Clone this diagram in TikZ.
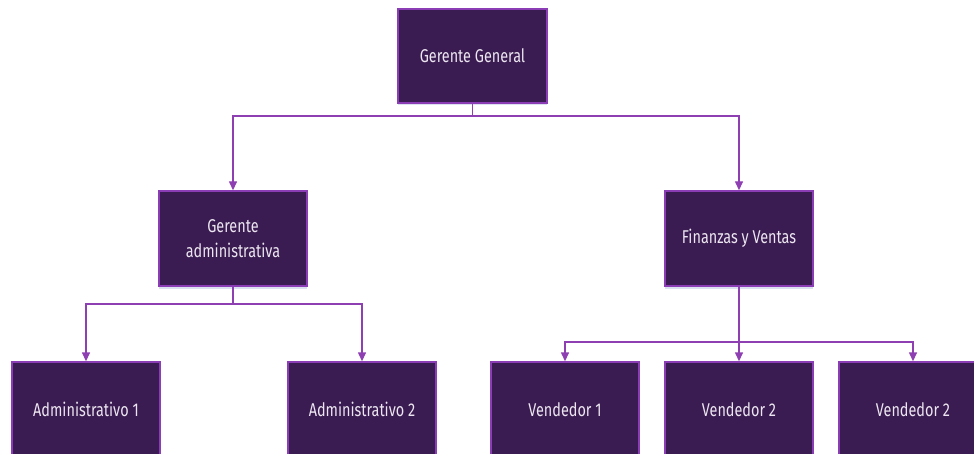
\documentclass[tikz,border=0pt]{standalone}
\usepackage{fontspec}
\newfontfamily\orgfont[FakeStretch=0.78]{Fira Sans}
\usetikzlibrary{arrows.meta,shadows}
\definecolor{boxfill}{HTML}{3B1C52}
\definecolor{boxedge}{HTML}{8A3DB5}
\definecolor{linkcol}{HTML}{8E3FB2}
\definecolor{textcol}{HTML}{ECE6F0}
\definecolor{shade}{HTML}{B8C4E0}
\tikzset{
  orgbox/.style={rectangle, draw=boxedge, line width=1.4pt, fill=boxfill,
    minimum width=148pt, minimum height=95pt, inner sep=0pt,
    text=textcol, align=center,
    font=\orgfont\fontsize{18.5}{25}\selectfont,
    drop shadow={shadow xshift=0pt, shadow yshift=-2.5pt, fill=shade, opacity=0.5}},
  link/.style={draw=linkcol, line width=1.4pt,
    -{Triangle[length=9pt,width=8pt]}}
}
\begin{document}
\begin{tikzpicture}[x=1pt,y=-1pt]
\useasboundingbox (0,0) rectangle (974,454);
\begin{scope}
\clip (0,0) rectangle (974,454);
% boxes
\node[orgbox, minimum width=149pt, minimum height=94pt] (gg) at (472.5,56) {Gerente General};
\node[orgbox] (ga) at (233,238.5) {Gerente\\administrativa};
\node[orgbox] (fv) at (739,238.5) {Finanzas y Ventas};
\node[orgbox] (a1) at (86,409.5) {Administrativo 1};
\node[orgbox] (a2) at (362,409.5) {Administrativo 2};
\node[orgbox] (v1) at (565,409.5) {Vendedor 1};
\node[orgbox] (v2) at (739,409.5) {Vendedor 2};
\node[orgbox] (v3) at (913,409.5) {Vendedor 2};
% bus heights
\coordinate (b1) at (0,116);
\coordinate (b2) at (0,304);
\coordinate (b3) at (0,342);
% connectors
\draw[link] (gg.south) -- (gg.south |- b1) -| (ga.north);
\draw[link] (gg.south) -- (gg.south |- b1) -| (fv.north);
\draw[link] (ga.south) -- (ga.south |- b2) -| (a1.north);
\draw[link] (ga.south) -- (ga.south |- b2) -| (a2.north);
\draw[link] (fv.south) -- (fv.south |- b3) -| (v1.north);
\draw[link] (fv.south) -- (v2.north);
\draw[link] (fv.south) -- (fv.south |- b3) -| (v3.north);
\end{scope}
\end{tikzpicture}
\end{document}
